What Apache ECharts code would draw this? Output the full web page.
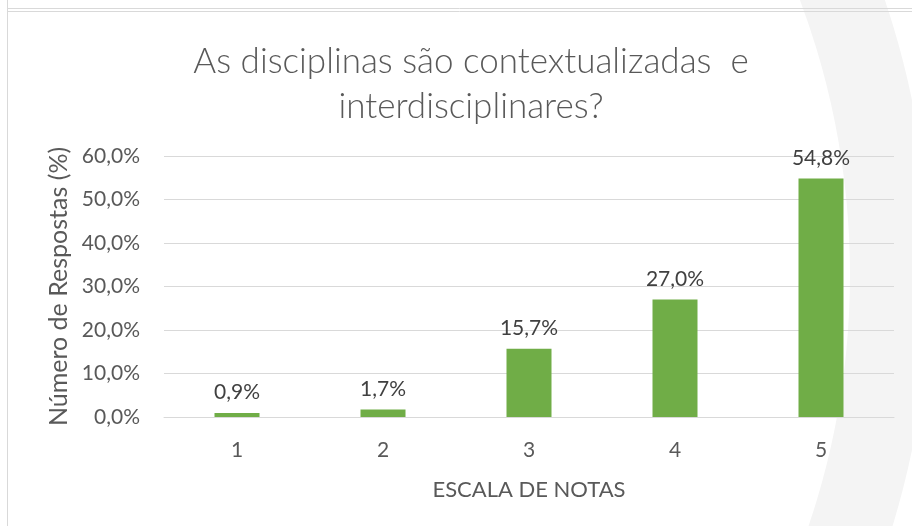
<!DOCTYPE html>
<html>
<head>
<meta charset="utf-8">
<script src="https://cdn.jsdelivr.net/npm/echarts@6/dist/echarts.min.js"></script>
<style>
  html, body { margin: 0; padding: 0; background: #fff; }
  #chart { width: 912px; height: 526px; }
</style>
</head>
<body>
<div id="chart"></div>
<script>
// data
const notas = ["1", "2", "3", "4", "5"];
const respostas = [0.9, 1.7, 15.7, 27.0, 54.8];
const titulo = "As disciplinas são contextualizadas  e\ninterdisciplinares?";

const fmt = (v) => v.toFixed(1).replace(".", ",") + "%";
const FONT = "Lato";
const TXT = "#595959";

const chart = echarts.init(document.getElementById("chart"));

chart.setOption({
  backgroundColor: "#ffffff",
  animation: false,
  graphic: [
    // faint watermark ring on the right
    {
      type: "ring",
      z: -10,
      silent: true,
      shape: { cx: 70, cy: 275, r0: 780, r: 860 },
      style: { fill: "#f4f4f4" },
    },
    // frame lines
    { type: "line", z: -5, shape: { x1: 7, y1: 8.5, x2: 912, y2: 8.5 }, style: { stroke: "#d9d9d9", lineWidth: 1 } },
    { type: "line", z: -5, shape: { x1: 7, y1: 11.5, x2: 912, y2: 11.5 }, style: { stroke: "#d9d9d9", lineWidth: 1 } },
    { type: "line", z: -5, shape: { x1: 7.5, y1: 0, x2: 7.5, y2: 526 }, style: { stroke: "#d9d9d9", lineWidth: 1 } },
  ],
  title: {
    text: titulo,
    left: 466,
    textAlign: "center",
    top: 34,
    textStyle: {
      fontFamily: FONT,
      fontWeight: 300,
      fontSize: 35,
      lineHeight: 45,
      color: TXT,
    },
  },
  grid: { left: 164, right: 18, top: 156, bottom: 109 },
  xAxis: {
    type: "category",
    data: notas,
    name: "ESCALA DE NOTAS",
    nameLocation: "middle",
    nameGap: 62,
    nameTextStyle: { fontFamily: FONT, fontSize: 22, color: TXT },
    axisLine: { lineStyle: { color: "#d9d9d9", width: 1 } },
    axisTick: { show: false },
    axisLabel: { margin: 23, fontFamily: FONT, fontSize: 21, color: TXT },
  },
  yAxis: {
    type: "value",
    min: 0,
    max: 60,
    interval: 10,
    name: "Número de Respostas (%)",
    nameLocation: "middle",
    nameRotate: 90,
    nameGap: 89,
    nameTextStyle: { fontFamily: FONT, fontSize: 25, color: TXT },
    axisLine: { show: false },
    axisTick: { show: false },
    splitLine: { lineStyle: { color: "#d9d9d9", width: 1 } },
    axisLabel: {
      margin: 24,
      fontFamily: FONT,
      fontSize: 21,
      color: TXT,
      formatter: (v) => fmt(v),
    },
  },
  series: [
    {
      type: "bar",
      data: respostas,
      barWidth: 45,
      itemStyle: { color: "#70ad47" },
      label: {
        show: true,
        position: "top",
        distance: 10,
        fontFamily: FONT,
        fontSize: 21,
        color: "#404040",
        formatter: (p) => fmt(p.value),
      },
    },
  ],
});
</script>
</body>
</html>
